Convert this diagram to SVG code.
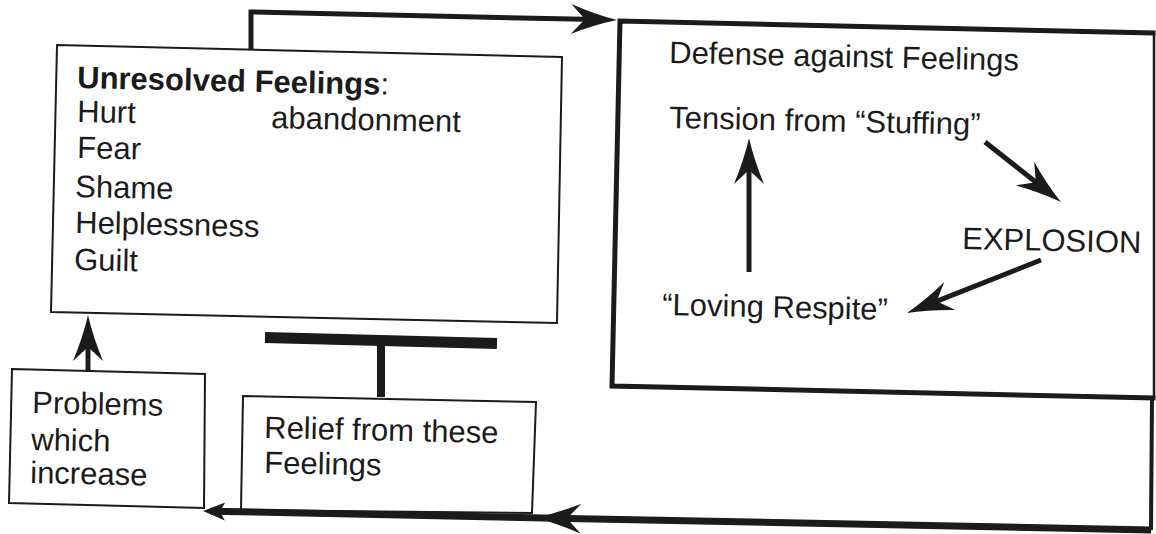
<svg xmlns="http://www.w3.org/2000/svg" width="1156" height="534" viewBox="0 0 1156 534">
<style>
text{font-family:"Liberation Sans",Arial,sans-serif;font-size:31px;fill:#1b1b1b}
.b{font-weight:bold}
.thin{fill:none;stroke:#1b1b1b;stroke-width:2}
.frame{fill:none;stroke:#1b1b1b;stroke-width:5;stroke-linecap:square}
.conn{fill:none;stroke:#1b1b1b;stroke-width:5}
.ret{fill:none;stroke:#1b1b1b;stroke-width:7}
.head{fill:#1b1b1b}
</style>
<defs>
<marker id="ah" markerUnits="userSpaceOnUse" orient="auto" overflow="visible" refX="0" refY="0" markerWidth="1" markerHeight="1">
<path class="head" d="M20,0 Q-2,-5 -26,-15 L-12,0 L-26,15 Q-2,5 20,0 Z"/>
</marker>
<marker id="as" markerUnits="userSpaceOnUse" orient="auto" overflow="visible" refX="0" refY="0" markerWidth="1" markerHeight="1">
<path class="head" d="M8,0 L-14,-9 L-9,0 L-14,9 Z"/>
</marker>
</defs>
<rect width="1156" height="534" fill="#fff"/>

<g id="connectors">
<polyline class="conn" points="251,50 251,12 597,19.6" marker-end="url(#ah)"/>
<polyline class="ret" points="1151,530 555,518.2 211,511.2" marker-mid="url(#ah)" marker-end="url(#as)"/>
<line class="conn" x1="88" y1="370" x2="88" y2="335" marker-end="url(#ah)"/>
<line x1="265" y1="337.5" x2="497" y2="343.5" stroke="#1b1b1b" stroke-width="11"/>
<line x1="381" y1="343" x2="381" y2="397" stroke="#1b1b1b" stroke-width="8"/>
<line class="conn" x1="749" y1="272" x2="749" y2="158" marker-end="url(#ah)"/>
<line class="conn" x1="985" y1="142" x2="1045.3" y2="189.6" marker-end="url(#ah)"/>
<line class="conn" x1="1041" y1="260" x2="925.6" y2="305.6" marker-end="url(#ah)"/>
</g>

<g id="n-unresolved">
<polygon class="thin" points="57,45 562,57 557,323 51,312"/>
<text x="77" y="88" transform="rotate(1.25 77 88)"><tspan class="b">Unresolved Feelings</tspan>:</text>
<text x="77" y="122" transform="rotate(1.25 77 122)">Hurt</text>
<text x="271" y="128" transform="rotate(1.25 271 128)">abandonment</text>
<text x="77" y="158" transform="rotate(1.25 77 158)">Fear</text>
<text x="75" y="197" transform="rotate(1.25 75 197)">Shame</text>
<text x="75" y="233" transform="rotate(1.25 75 233)">Helplessness</text>
<text x="74" y="270" transform="rotate(1.25 74 270)">Guilt</text>
</g>

<g id="n-defense">
<polyline class="frame" points="1153,33 620,21 612,386 1153,398"/>
<line x1="1154" y1="33" x2="1154" y2="398" stroke="#1b1b1b" stroke-width="2.5"/>
<line x1="1152" y1="398" x2="1151" y2="530" stroke="#1b1b1b" stroke-width="4"/>
<text x="669" y="63" transform="rotate(1.25 669 63)">Defense against Feelings</text>
</g>

<g id="n-tension">
<text x="669" y="128" transform="rotate(1.25 669 128)">Tension from “Stuffing”</text>
</g>
<g id="n-explosion">
<text x="962" y="249" transform="rotate(1.25 962 249)">EXPLOSION</text>
</g>
<g id="n-respite">
<text x="662" y="315" transform="rotate(1.25 662 315)">“Loving Respite”</text>
</g>

<g id="n-problems">
<polygon class="thin" points="12,369 205,374 204,508 9,503"/>
<text x="32" y="413" transform="rotate(1.25 32 413)">Problems</text>
<text x="31" y="450" transform="rotate(1.25 31 450)">which</text>
<text x="30" y="483" transform="rotate(1.25 30 483)">increase</text>
</g>

<g id="n-relief">
<polygon class="thin" points="243,396 536,402 532,513 241,510"/>
<text x="264" y="438" transform="rotate(1.25 264 438)">Relief from these</text>
<text x="264" y="473" transform="rotate(1.25 264 473)">Feelings</text>
</g>
</svg>
